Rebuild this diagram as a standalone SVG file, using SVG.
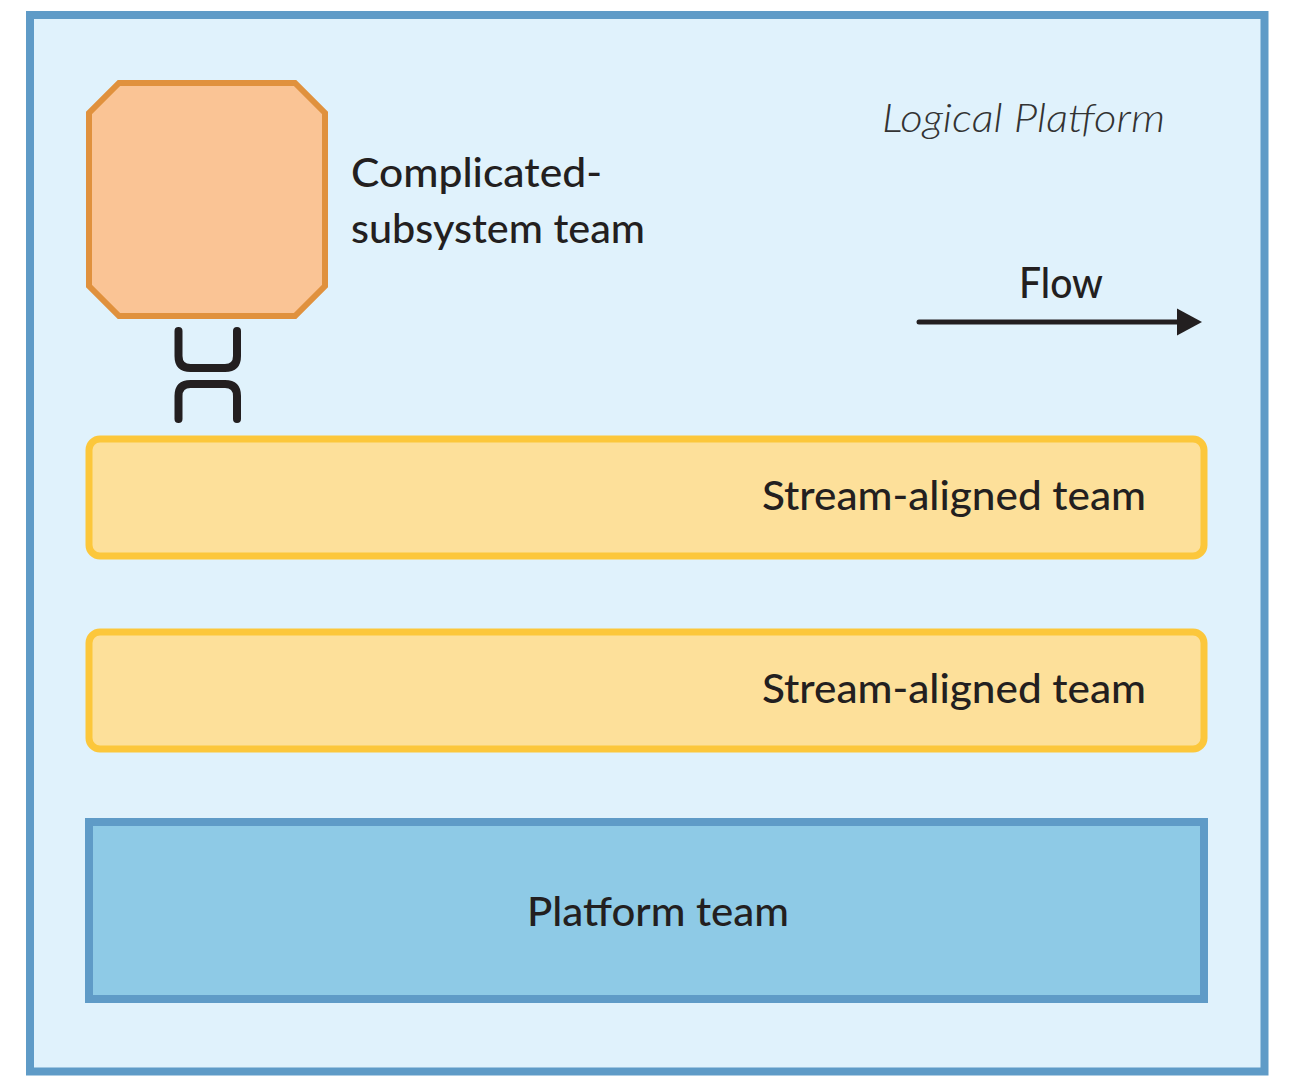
<svg xmlns="http://www.w3.org/2000/svg" width="1292" height="1091" viewBox="0 0 1292 1091">
<style>
.lbl{font-family:Lato,"Noto Sans","Liberation Sans",sans-serif;font-size:40px;fill:#231f20;font-weight:500}
.stream{fill:#fde09a;stroke:#fcc73b;stroke-width:7}
.conn{fill:none;stroke:#231f20;stroke-width:8;stroke-linecap:round}
</style>
<rect width="1292" height="1091" fill="#ffffff"/>
<g id="logical-platform">
<rect x="30" y="15" width="1234.5" height="1056.5" fill="#e0f2fc" stroke="#5f9bc7" stroke-width="8"/>
<text x="882" y="132" class="lbl" style="font-style:italic;font-weight:300;fill:#333" textLength="283" lengthAdjust="spacingAndGlyphs">Logical Platform</text>
</g>
<g id="complicated-subsystem">
<polygon points="119,83 295,83 325,113 325,286 295,316 119,316 89,286 89,113" fill="#fac495" stroke="#e0913d" stroke-width="6"/>
<text class="lbl" x="351" y="187" textLength="251" lengthAdjust="spacingAndGlyphs">Complicated-</text>
<text class="lbl" x="351" y="243" textLength="294" lengthAdjust="spacingAndGlyphs">subsystem team</text>
</g>
<g id="stream-1">
<rect class="stream" x="89" y="439" width="1115" height="117" rx="11"/>
<text class="lbl" x="762" y="510" textLength="384" lengthAdjust="spacingAndGlyphs">Stream-aligned team</text>
</g>
<g id="stream-2">
<rect class="stream" x="89" y="632" width="1115" height="117" rx="11"/>
<text class="lbl" x="762" y="703" textLength="384" lengthAdjust="spacingAndGlyphs">Stream-aligned team</text>
</g>
<g id="platform">
<rect x="89" y="822" width="1115" height="177" fill="#8ecae6" stroke="#5f9bc7" stroke-width="8"/>
<text class="lbl" x="527" y="926" textLength="262" lengthAdjust="spacingAndGlyphs">Platform team</text>
</g>
<g id="flow">
<text class="lbl" x="1019" y="298" style="font-size:42px" textLength="84" lengthAdjust="spacingAndGlyphs">Flow</text>
</g>
<g id="connectors">
<path class="conn" d="M178.5 331 V356 Q178.5 368 190.5 368 H225 Q237 368 237 356 V331"/>
<path class="conn" d="M178.5 419 V396 Q178.5 384 190.5 384 H225 Q237 384 237 396 V419"/>
<line x1="919" y1="322" x2="1182" y2="322" stroke="#231f20" stroke-width="5" stroke-linecap="round"/>
<polygon points="1177,308.5 1202,322 1177,335.5" fill="#231f20"/>
</g>
</svg>
